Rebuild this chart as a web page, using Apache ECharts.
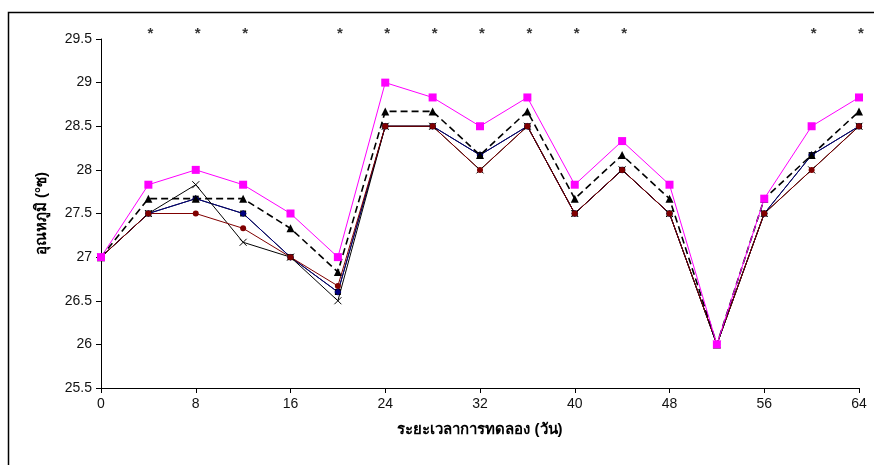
<!DOCTYPE html>
<html><head><meta charset="utf-8">
<script src="https://cdn.jsdelivr.net/npm/echarts@6/dist/echarts.min.js"></script>
<style>html,body{margin:0;padding:0;background:#fff}#c{width:874px;height:465px}</style>
</head><body><div id="c"></div>
<script>
const days = [0,4,8,12,16,20,24,28,32,36,40,44,48,52,56,60,64];
const sMagenta = [27,27.83,28,27.83,27.5,27,29,28.83,28.5,28.83,27.83,28.33,27.83,26,27.67,28.5,28.83];
const sTriangle = [27,27.67,27.67,27.67,27.33,26.83,28.67,28.67,28.17,28.67,27.67,28.17,27.67,26,27.67,28.17,28.67];
const sSquare = [27,27.5,27.67,27.5,27,26.6,28.5,28.5,28.17,28.5,27.5,28,27.5,26,27.5,28.17,28.5];
const sDiamond = [27,27.5,27.67,27.5,27,26.6,28.5,28.5,28.17,28.5,27.5,28,27.5,26,27.5,28.17,28.5];
const sCircle = [27,27.5,27.5,27.33,27,26.67,28.5,28.5,28,28.5,27.5,28,27.5,26,27.5,28,28.5];
const sCross = [27,27.5,27.83,27.17,27,26.5,28.5,28.5,28,28.5,27.5,28,27.5,26,27.5,28,28.5];
const starDays = [4,8,12,20,24,28,32,36,40,44,60,64];
const yTicks = [25.5,26,26.5,27,27.5,28,28.5,29,29.5];
const xName = 'ระยะเวลาการทดลอง (วัน)';
const yName = 'อุณหภูมิ (°ซ)';

const pair = arr => days.map((d,i)=>[d,arr[i]]);
function line(name, arr, color, symbol, size, extra) {
  return Object.assign({
    name, type:'line', data: pair(arr), symbol, symbolSize:size,
    lineStyle:{color, width:1}, itemStyle:{color}, animation:false
  }, extra||{});
}
const chart = echarts.init(document.getElementById('c'));
chart.setOption({
  backgroundColor:'#fff',
  animation:false,
  grid:{left:101, right:15, top:39, bottom:77},
  graphic:[{type:'rect', shape:{x:8.5,y:12.5,width:880,height:480}, style:{fill:'none', stroke:'#000', lineWidth:1.5}, silent:true}],
  xAxis:{type:'value', min:0, max:64, interval:8,
    name:xName, nameLocation:'middle', nameGap:34,
    nameTextStyle:{fontFamily:'Arial, sans-serif', fontSize:15, fontWeight:'bold', color:'#000'},
    axisLine:{lineStyle:{color:'#000', width:1}},
    axisTick:{show:true, length:5, lineStyle:{color:'#000'}},
    axisLabel:{fontFamily:'Arial, sans-serif', fontSize:14, color:'#111', margin:9},
    splitLine:{show:false}},
  yAxis:{type:'value', min:25.5, max:29.5, interval:0.5,
    name:yName, nameLocation:'middle', nameGap:52, nameRotate:90,
    nameTextStyle:{fontFamily:'Arial, sans-serif', fontSize:15, fontWeight:'bold', color:'#000'},
    axisLine:{show:true, lineStyle:{color:'#000', width:1}},
    axisTick:{show:true, length:5, lineStyle:{color:'#000'}},
    axisLabel:{fontFamily:'Arial, sans-serif', fontSize:14, color:'#111', margin:9,
      formatter: v => { const t = yTicks.find(k=>Math.abs(k-v)<1e-6); return t===undefined?'':String(t); }},
    splitLine:{show:false}},
  series:[
    line('square', sSquare, '#000', 'rect', 6),
    line('diamond', sDiamond, '#000080', 'diamond', 7),
    line('cross', sCross, '#000', 'path://M0,0L10,10M10,0L0,10', 7,
      {itemStyle:{color:'transparent', borderColor:'#000', borderWidth:1}}),
    line('circle', sCircle, '#800000', 'circle', 6),
    line('triangle', sTriangle, '#000', 'triangle', 8, {lineStyle:{color:'#000', width:1.6, type:[7,4]}}),
    line('magenta', sMagenta, '#ff00ff', 'rect', 8),
    {type:'scatter', data: starDays.map(d=>[d,29.5]), symbolSize:0, clip:false, animation:false,
      label:{show:true, formatter:'*', position:'top', distance:-2, offset:[2,0], fontFamily:'Arial, sans-serif', fontSize:15, fontWeight:'bold', color:'#000'}}
  ]
});
</script></body></html>
